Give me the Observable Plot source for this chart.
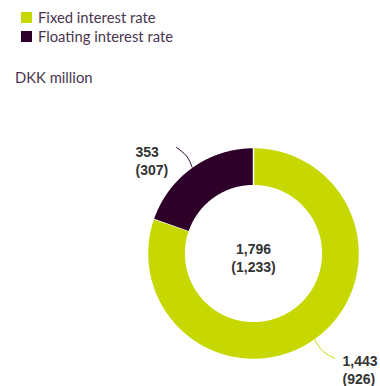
<!DOCTYPE html>
<html>
<head>
<meta charset="utf-8">
<script src="https://cdn.jsdelivr.net/npm/d3@7"></script>
<script src="https://cdn.jsdelivr.net/npm/@observablehq/plot@0.6"></script>
<style>
  html, body { margin: 0; padding: 0; background: #fff; }
  body { width: 380px; height: 386px; overflow: hidden; font-family: Lato, "Open Sans", sans-serif; }
  #header { position: relative; height: 96px; color: #4a3550; font-size: 14.8px; }
  .item { position: absolute; left: 21px; display: flex; align-items: center; white-space: nowrap; }
  .sw { width: 11px; height: 11px; margin-right: 6px; }
  #unit { position: absolute; left: 15px; top: 68px; }
  svg { display: block; }
</style>
</head>
<body>
<div id="header"></div>
<div id="chart"></div>
<script>
// ---- data ----
const categories = ["Fixed interest rate", "Floating interest rate"];
const values = [1443, 353];
const priorValues = [926, 307];
const colors = ["#c6d800", "#2e0029"];
const unitLabel = "DKK million";

const fmt = d3.format(",");
const total = d3.sum(values);
const priorTotal = d3.sum(priorValues);

// ---- header (legend + unit) ----
const header = document.getElementById("header");
categories.forEach((c, i) => {
  const row = document.createElement("div");
  row.className = "item";
  row.style.top = (8 + i * 19) + "px";
  row.innerHTML = `<span class="sw" style="background:${colors[i]}"></span><span>${c}</span>`;
  header.appendChild(row);
});
const unit = document.createElement("div");
unit.id = "unit";
unit.textContent = unitLabel;
header.appendChild(unit);

// ---- donut geometry from the data ----
const innerR = 0.64;
const arcs = d3.pie().sort(null)(values);
const ring = [];
arcs.forEach((a, i) => {
  const n = Math.max(2, Math.ceil((a.endAngle - a.startAngle) / 0.01));
  for (let k = 0; k <= n; k++) {
    const t = a.startAngle + (a.endAngle - a.startAngle) * k / n;
    ring.push({key: categories[i], x: Math.sin(t), y: Math.cos(t)});
  }
  for (let k = n; k >= 0; k--) {
    const t = a.startAngle + (a.endAngle - a.startAngle) * k / n;
    ring.push({key: categories[i], x: innerR * Math.sin(t), y: innerR * Math.cos(t)});
  }
});

// leader lines: start on the ring at each slice's mid-angle
const leaderEnds = [[0.764, -0.99], [-0.726, 1.0]];
const leaderBend = [[-0.02, -0.015], [0.02, 0.012]];
const leaders = [];
arcs.forEach((a, i) => {
  const m = (a.startAngle + a.endAngle) / 2;
  const x0 = Math.sin(m), y0 = Math.cos(m);
  const [x2, y2] = leaderEnds[i];
  leaders.push({key: categories[i], x: x0, y: y0});
  leaders.push({key: categories[i], x: (x0 + x2) / 2 + leaderBend[i][0], y: (y0 + y2) / 2 + leaderBend[i][1]});
  leaders.push({key: categories[i], x: x2, y: y2});
});

const labelPos = [[0.84, -1.094], [-1.113, 0.877]];
const labels = categories.map((c, i) => ({
  x: labelPos[i][0], y: labelPos[i][1],
  text: `${fmt(values[i])}\n(${fmt(priorValues[i])})`
}));

const plot = Plot.plot({
  width: 380,
  height: 290,
  margin: 0,
  x: {domain: [-1, 1], range: [147, 359], axis: null},
  y: {domain: [-1, 1], range: [263, 51], axis: null},
  color: {domain: categories, range: colors},
  style: {background: "white", overflow: "visible"},
  marks: [
    Plot.line(ring, {x: "x", y: "y", z: "key", fill: "key", stroke: "white", strokeWidth: 1.5, curve: "linear"}),
    Plot.line(leaders, {x: "x", y: "y", z: "key", stroke: "key", strokeWidth: 1, curve: "natural"}),
    Plot.text(labels, {x: "x", y: "y", text: "text", textAnchor: "start", lineAnchor: "middle",
      lineHeight: 1.25, fontSize: 14, fontWeight: "bold", fill: "#333",
      fontFamily: "'Liberation Sans', Arial, sans-serif"}),
    Plot.text([{x: 0, y: -0.035, text: `${fmt(total)}\n(${fmt(priorTotal)})`}], {x: "x", y: "y", text: "text",
      textAnchor: "middle", lineAnchor: "middle", lineHeight: 1.25, fontSize: 14, fontWeight: "bold", fill: "#333",
      fontFamily: "'Liberation Sans', Arial, sans-serif"})
  ]
});
document.getElementById("chart").appendChild(plot);
</script>
</body>
</html>
